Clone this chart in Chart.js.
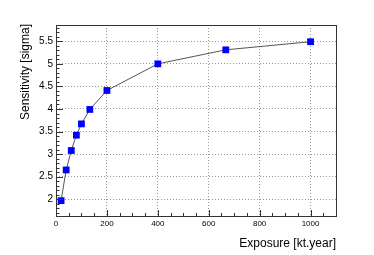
<!DOCTYPE html>
<html>
<head>
<meta charset="utf-8">
<script src="https://cdn.jsdelivr.net/npm/chart.js@4"></script>
<style>
html,body{margin:0;padding:0;background:#fff;}
#wrap{width:374px;height:255px;position:relative;}
</style>
</head>
<body>
<div id="wrap"><canvas id="c" width="374" height="255"></canvas></div>
<script>
// Data
const exposure = [20, 40, 60, 80, 100, 133, 200, 400, 667, 1000];
const sensitivity = [1.97, 2.65, 3.08, 3.42, 3.67, 3.99, 4.41, 5.0, 5.31, 5.49];
const xTickLabels = [0, 200, 400, 600, 800, 1000];
const yTickLabels = [2, 2.5, 3, 3.5, 4, 4.5, 5, 5.5];
const xTitle = 'Exposure [kt.year]';
const yTitle = 'Sensitivity [sigma]';
const xRange = [0, 1100];
const yRange = [1.63, 5.86];
const xMinorStep = 50;
const yMinorStep = 0.1;

const FONT = "'Liberation Sans', Arial, sans-serif";

const decor = {
  id: 'decor',
  afterDraw(chart) {
    const ctx = chart.ctx;
    const a = chart.chartArea;
    const xs = chart.scales.x, ys = chart.scales.y;
    ctx.save();
    ctx.strokeStyle = '#333';
    ctx.lineWidth = 1;
    // ticks
    ctx.beginPath();
    for (let v = Math.ceil(xRange[0] / xMinorStep) * xMinorStep; v <= xRange[1] + 1e-9; v += xMinorStep) {
      const px = Math.round(xs.getPixelForValue(v)) + 0.5;
      const major = xTickLabels.includes(v);
      const len = major ? 6 : 3;
      ctx.moveTo(px, a.bottom);
      ctx.lineTo(px, a.bottom - len);
    }
    for (let i = Math.ceil(yRange[0] / yMinorStep); i * yMinorStep <= yRange[1] + 1e-9; i++) {
      const v = i * yMinorStep;
      const py = Math.round(ys.getPixelForValue(v)) + 0.5;
      const major = (i % 5) === 0;
      const len = major ? 7 : 3.5;
      ctx.moveTo(a.left, py);
      ctx.lineTo(a.left + len, py);
    }
    ctx.stroke();
    // frame
    ctx.strokeStyle = '#333';
    ctx.strokeRect(Math.round(a.left) + 0.5, Math.round(a.top) + 0.5,
      Math.round(a.right - a.left), Math.round(a.bottom - a.top));
    // titles
    ctx.fillStyle = '#000';
    ctx.font = '12px ' + FONT;
    ctx.textAlign = 'right';
    ctx.textBaseline = 'alphabetic';
    ctx.fillText(xTitle, a.right, 247);
    ctx.translate(29, a.top - 1);
    ctx.rotate(-Math.PI / 2);
    ctx.textAlign = 'right';
    ctx.fillText(yTitle, 0, 0);
    ctx.restore();
  }
};

new Chart(document.getElementById('c'), {
  type: 'scatter',
  data: {
    datasets: [{
      data: exposure.map((x, i) => ({ x: x, y: sensitivity[i] })),
      showLine: true,
      borderColor: '#555555',
      borderWidth: 1,
      pointStyle: 'rect',
      pointRadius: 4.8,
      pointHoverRadius: 4.8,
      pointBackgroundColor: '#0000ff',
      pointBorderColor: '#0000ff',
      pointBorderWidth: 0,
      tension: 0
    }]
  },
  options: {
    responsive: false,
    animation: false,
    devicePixelRatio: 1,
    layout: { padding: { left: 0, right: 38, top: 25, bottom: 0 } },
    plugins: { legend: { display: false }, tooltip: { enabled: false } },
    scales: {
      x: {
        type: 'linear',
        min: xRange[0], max: xRange[1],
        afterBuildTicks: s => { s.ticks = xTickLabels.map(v => ({ value: v })); },
        afterFit: s => { s.height = 39; },
        grid: { color: '#999', lineWidth: 1, drawTicks: false },
        border: { display: false, dash: [1, 2] },
        ticks: {
          padding: 3, color: '#000', maxRotation: 0,
          font: { family: FONT, size: 8 },
          callback: v => String(v)
        }
      },
      y: {
        type: 'linear',
        min: yRange[0], max: yRange[1],
        afterBuildTicks: s => { s.ticks = yTickLabels.map(v => ({ value: v })); },
        afterFit: s => { s.width = 56; },
        grid: { color: '#999', lineWidth: 1, drawTicks: false },
        border: { display: false, dash: [1, 2] },
        ticks: {
          padding: 3, color: '#000',
          font: { family: FONT, size: 10 },
          callback: v => String(v)
        }
      }
    }
  },
  plugins: [decor]
});
</script>
</body>
</html>
